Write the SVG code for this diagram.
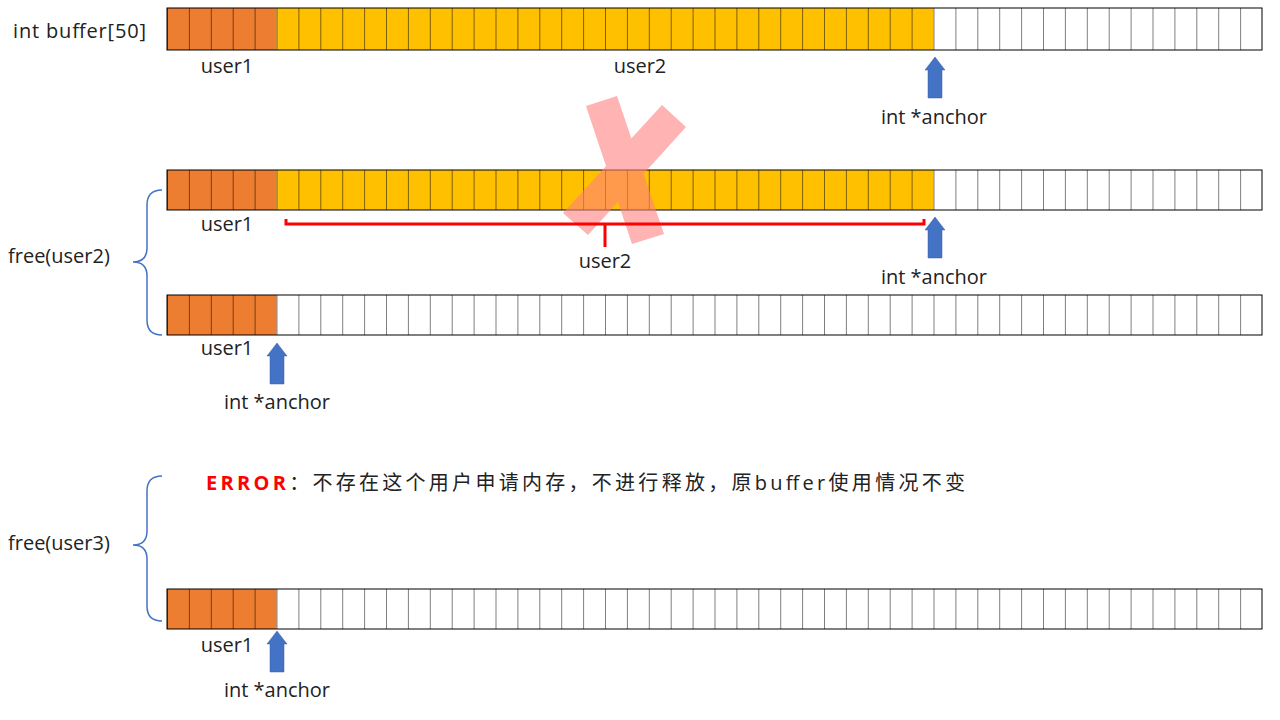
<svg xmlns="http://www.w3.org/2000/svg" width="1280" height="720" viewBox="0 0 1280 720">
<defs>
<style>
text{font-family:"Open Sans","Noto Sans CJK SC",sans-serif;font-size:20px;fill:#222}
.c{stroke:#000;stroke-width:1}
.brace{fill:none;stroke:#4472C4;stroke-width:1.5}
.arr{fill:#4472C4;stroke:#3a62a8;stroke-width:0.5}
</style>
<pattern id="cells" x="167" y="0" width="21.9" height="720" patternUnits="userSpaceOnUse">
<line x1="0" y1="0" x2="0" y2="720" stroke="#000" stroke-width="1"/>
</pattern>
<path id="arrow" d="M-7,13 L-10,13 L0,0 L10,13 L7,13 L7,41 L-7,41 Z"/>
</defs>
<rect width="1280" height="720" fill="#fff"/>
<g id="row1">
<rect x="167" y="8" width="109.5" height="42" fill="#ED7D31"/>
<rect x="276.5" y="8" width="657" height="42" fill="#FFC000"/>
<rect x="167" y="8" width="1095" height="42" fill="url(#cells)" class="c"/>
<text x="13" y="38" textLength="133">int buffer[50]</text>
<text x="227" y="73" text-anchor="middle">user1</text>
<text x="640" y="73" text-anchor="middle">user2</text>
<use href="#arrow" x="935" y="57" class="arr"/>
<text x="934" y="124" text-anchor="middle">int *anchor</text>
</g>
<g id="row2">
<rect x="167" y="170" width="109.5" height="40" fill="#ED7D31"/>
<rect x="276.5" y="170" width="657" height="40" fill="#FFC000"/>
<rect x="167" y="170" width="1095" height="40" fill="url(#cells)" class="c"/>
<text x="227" y="231" text-anchor="middle">user1</text>
<text x="605" y="268" text-anchor="middle">user2</text>
<use href="#arrow" x="935" y="217" class="arr"/>
<text x="934" y="284" text-anchor="middle">int *anchor</text>
</g>
<g id="cross" opacity="0.6">
<path d="M586,106 L617,96 L664,234 L632,244 Z M662,105 L686,127 L588,235 L563,213 Z" fill="#FF8080"/>
</g>
<g id="row3">
<rect x="167" y="295" width="109.5" height="40" fill="#ED7D31"/>
<rect x="167" y="295" width="1095" height="40" fill="url(#cells)" class="c"/>
<text x="227" y="355" text-anchor="middle">user1</text>
<use href="#arrow" x="277" y="343" class="arr"/>
<text x="277" y="409" text-anchor="middle">int *anchor</text>
</g>
<g id="row4">
<text x="206" y="490" textLength="759" lengthAdjust="spacing"><tspan fill="#FF0000" font-weight="bold">ERROR</tspan>：不存在这个用户申请内存，不进行释放，原buffer使用情况不变</text>
<rect x="167" y="589" width="109.5" height="40" fill="#ED7D31"/>
<rect x="167" y="589" width="1095" height="40" fill="url(#cells)" class="c"/>
<text x="227" y="652" text-anchor="middle">user1</text>
<use href="#arrow" x="277" y="631" class="arr"/>
<text x="277" y="697" text-anchor="middle">int *anchor</text>
</g>
<g id="connectors">
<path d="M286,219 L286,224 L924,224 L924,219 M605,224 L605,247" fill="none" stroke="#FF0000" stroke-width="3"/>
<path class="brace" d="M162,190 Q147,190 147,205 L147,248 Q147,262 133,262 Q147,262 147,276 L147,320 Q147,335 162,335"/>
<path class="brace" d="M162,476 Q147,476 147,491 L147,531 Q147,545 133,545 Q147,545 147,559 L147,606 Q147,621 162,621"/>
<text x="8" y="263">free(user2)</text>
<text x="8" y="550">free(user3)</text>
</g>
</svg>
